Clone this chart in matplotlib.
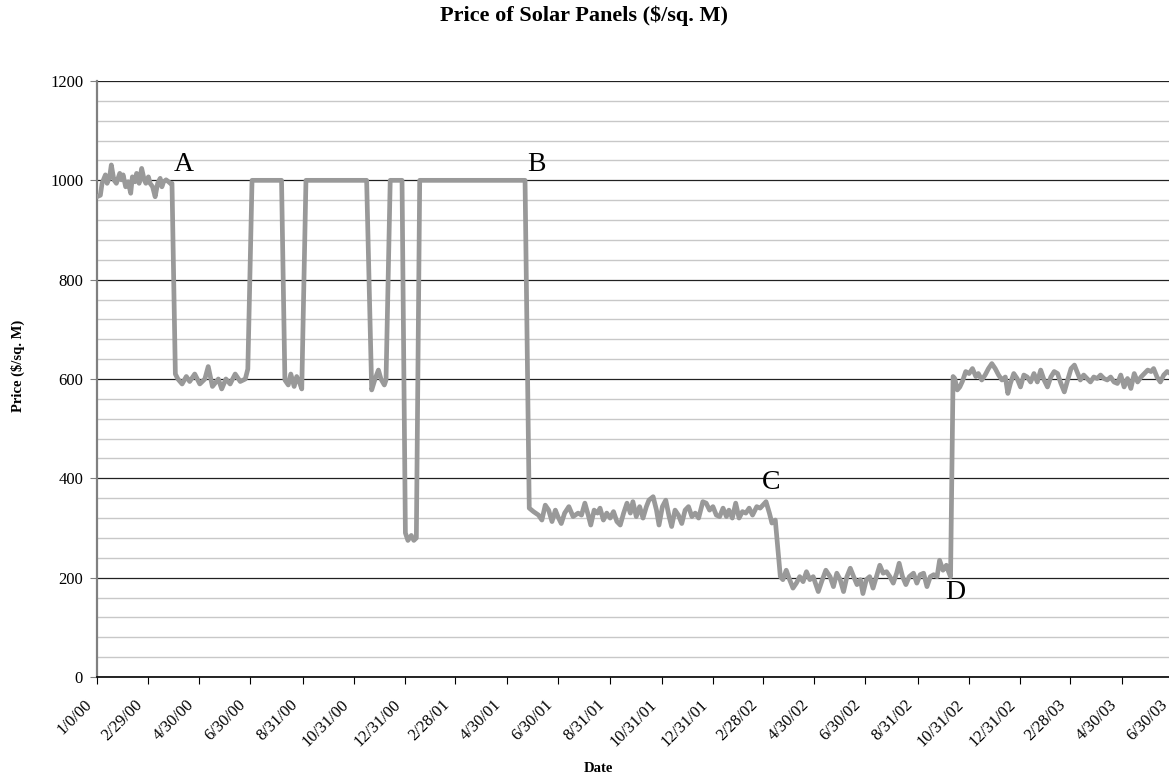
import matplotlib
matplotlib.use("Agg")
import matplotlib.pyplot as plt
import matplotlib.transforms as mtrans
from matplotlib.ticker import MultipleLocator

# Excel-style day serials (1/0/00 = day 0) and price readings
days = [0, 4, 6, 10, 12, 15, 17, 20, 23, 27, 29, 31, 34, 37, 40, 42, 45, 47, 50, 53,
        56, 58, 61, 63, 66, 69, 72, 75, 77, 79, 82, 85, 87, 89,
        93, 96, 101, 106, 110, 116, 122, 128, 132, 137, 144, 148, 153, 158, 164, 170,
        176, 179, 184, 219, 223, 227, 230, 234, 237, 241, 243, 248, 320, 326, 330, 334,
        337, 341, 343, 348, 362, 366, 369, 373, 376, 379, 383, 508,
        513, 518, 524, 528, 532, 536, 540, 544, 547, 551, 555, 560, 565, 571, 575, 579,
        583, 586, 590, 594, 597, 601, 605, 609, 613, 617, 621, 625, 629, 633, 636, 640,
        644, 648, 652, 655, 660, 664, 667, 671, 675, 679, 682, 686, 690, 694, 698, 702,
        706, 710, 714, 719, 723, 727, 731, 735, 739, 743, 747, 750, 754, 758, 762, 766,
        770, 774, 778, 783, 787, 794, 798, 801, 805,
        811, 814, 818, 822, 826, 830, 834, 838, 842, 846, 850, 856, 860, 865, 870, 874,
        878, 882, 886, 890, 894, 898, 902, 906, 909, 913, 917, 921, 925, 929, 933, 937,
        941, 945, 949, 952, 956, 960, 964, 969, 973, 977, 981, 985, 989, 993, 997, 1000,
        1004, 1008, 1010, 1013,
        1016, 1018, 1021, 1024, 1027, 1031, 1035, 1039, 1043, 1046, 1050, 1054, 1058,
        1062, 1066, 1070, 1074, 1078, 1081, 1084, 1088, 1092, 1096, 1100, 1104, 1108,
        1112, 1116, 1120, 1124, 1128, 1132, 1136, 1140, 1144, 1148, 1152, 1156, 1160,
        1163, 1167, 1171, 1175, 1179, 1183, 1187, 1191, 1195, 1199, 1203, 1207, 1211,
        1215, 1219, 1223, 1227, 1231, 1235, 1239, 1243, 1247, 1251, 1254, 1258, 1262,
        1266, 1270, 1274, 1280]
prices = [967, 970, 994, 1011, 994, 1007, 1031, 1001, 994, 1014, 1001, 1011, 987, 997, 974, 1007, 997, 1014, 994, 1024,
          1001, 994, 1007, 994, 987, 967, 994, 1004, 987, 997, 1001, 997, 994, 994,
          610, 600, 590, 605, 595, 610, 590, 600, 625, 585, 600, 580, 600, 590, 610, 595,
          600, 620, 1000, 1000, 598, 588, 610, 585, 605, 590, 580, 1000, 1000, 578, 600, 618,
          600, 588, 598, 1000, 1000, 290, 275, 285, 275, 280, 1000, 1000,
          340, 333, 326, 316, 346, 336, 313, 336, 323, 309, 330, 343, 323, 330, 326, 350,
          326, 306, 336, 330, 340, 316, 330, 320, 333, 313, 306, 330, 350, 330, 353, 323,
          343, 320, 343, 356, 363, 336, 306, 343, 356, 323, 303, 336, 326, 309, 336, 343,
          323, 330, 320, 353, 350, 336, 343, 326, 323, 340, 323, 336, 320, 350, 320, 333,
          330, 340, 326, 343, 340, 353, 330, 310, 316,
          202, 196, 215, 196, 179, 189, 202, 192, 212, 196, 202, 172, 192, 215, 202, 182,
          209, 196, 172, 202, 219, 202, 186, 196, 168, 196, 202, 179, 202, 225, 209, 212,
          202, 189, 209, 229, 202, 186, 202, 209, 189, 206, 209, 182, 202, 206, 202, 235,
          215, 225, 215, 202,
          605, 601, 578, 584, 595, 615, 611, 621, 605, 611, 598, 608, 621,
          631, 621, 608, 598, 604, 571, 591, 611, 601, 584, 608, 604, 594,
          611, 594, 618, 598, 584, 604, 615, 611, 591, 574, 598, 621, 628,
          615, 598, 608, 601, 594, 604, 601, 608, 601, 598, 604, 594, 591,
          608, 584, 601, 581, 611, 594, 604, 611, 618, 615, 621, 604, 594,
          608, 615, 611, 605]

tick_days = [0, 60, 121, 182, 244, 305, 366, 425, 486, 547, 609, 670, 731,
             790, 851, 912, 974, 1035, 1096, 1155, 1216, 1277]
tick_labels = ['1/0/00', '2/29/00', '4/30/00', '6/30/00', '8/31/00', '10/31/00',
               '12/31/00', '2/28/01', '4/30/01', '6/30/01', '8/31/01', '10/31/01',
               '12/31/01', '2/28/02', '4/30/02', '6/30/02', '8/31/02', '10/31/02',
               '12/31/02', '2/28/03', '4/30/03', '6/30/03']

marks = ['A', 'B', 'C', 'D']
mark_days = [103, 521, 800, 1018]
mark_vals = [1031, 1031, 391, 171]

plt.rcParams['font.family'] = ['Liberation Serif', 'DejaVu Serif']

W, H = 1169, 780
fig = plt.figure(figsize=(W / 100, H / 100), dpi=100)
x_max = 1285
ax = fig.add_axes([97 / W, 103 / H, x_max * 0.8426 / W, 596 / H])

ax.plot(days, prices, color='#999999', lw=3.4, solid_joinstyle='round', zorder=3)

ax.set_xlim(0, x_max)
ax.set_ylim(0, 1200)
ax.yaxis.set_major_locator(MultipleLocator(200))
ax.yaxis.set_minor_locator(MultipleLocator(40))
ax.grid(True, which='minor', axis='y', color='#c8c8c8', lw=1.0, zorder=0)
ax.grid(True, which='major', axis='y', color='#202020', lw=0.9, zorder=1)
ax.tick_params(axis='y', which='minor', length=0)
ax.tick_params(axis='y', which='major', length=5, color='#808080', labelsize=12, pad=5)

ax.set_xticks(tick_days)
ax.set_xticklabels(tick_labels, rotation=45, ha='right', rotation_mode='anchor')
ax.tick_params(axis='x', length=5, color='black', labelsize=12, pad=9)
shift = mtrans.ScaledTranslation(-13 / 100, 0, fig.dpi_scale_trans)
for lab in ax.get_xticklabels():
    lab.set_transform(lab.get_transform() + shift)

ax.spines['top'].set_visible(False)
ax.spines['right'].set_visible(False)
ax.spines['left'].set_color('#808080')
ax.spines['left'].set_linewidth(1.6)
ax.spines['bottom'].set_linewidth(1.2)

for m, d, v in zip(marks, mark_days, mark_vals):
    ax.text(d, v, m, fontsize=20, ha='center', va='center', zorder=4)

fig.text(584 / W, 1 - 16 / H, 'Price of Solar Panels ($/sq. M)', ha='center',
         va='center', fontsize=16, fontweight='bold')
fig.text(18 / W, 1 - 366 / H, 'Price ($/sq. M)', ha='center', va='center',
         rotation=90, fontsize=10.5, fontweight='bold')
fig.text(598 / W, 1 - 768 / H, 'Date', ha='center', va='center',
         fontsize=10.5, fontweight='bold')

fig.savefig('out.png', dpi=100)
